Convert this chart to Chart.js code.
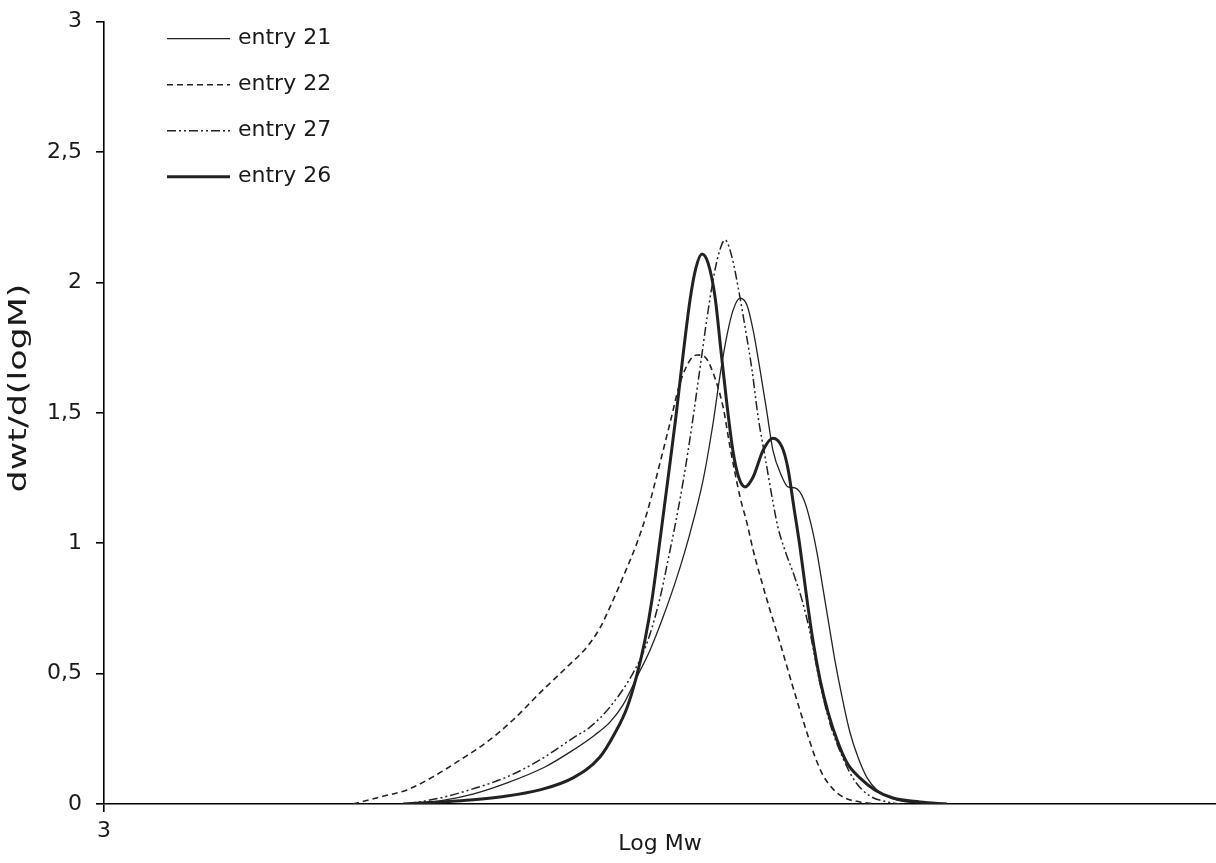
<!DOCTYPE html>
<html>
<head>
<meta charset="utf-8">
<script src="https://cdn.jsdelivr.net/npm/chart.js@4.4.1/dist/chart.umd.min.js"></script>
<style>
  html, body { margin: 0; padding: 0; background: #fff; }
  #wrap { width: 1216px; height: 863px; }
</style>
</head>
<body>
<div id="wrap"><canvas id="mwd"></canvas></div>
<script>
// GPC molecular weight distributions: dwt/d(logM) against Log Mw
const seriesNames = ['entry 21', 'entry 22', 'entry 27', 'entry 26'];

const logMw21 = [4.101, 4.209, 4.327, 4.450, 4.586, 4.676, 4.766, 4.820, 4.867, 4.917, 4.964, 5.011, 5.061, 5.108, 5.155, 5.191, 5.216, 5.241, 5.263, 5.288, 5.313, 5.335, 5.360, 5.385, 5.406, 5.439, 5.460, 5.486, 5.518, 5.543, 5.565, 5.586, 5.608, 5.629, 5.655, 5.683, 5.712, 5.745, 5.784, 5.853, 5.935, 6.007];
const dwt21 = [0, 0.012, 0.038, 0.081, 0.142, 0.199, 0.265, 0.314, 0.380, 0.487, 0.590, 0.717, 0.870, 1.039, 1.242, 1.461, 1.645, 1.798, 1.894, 1.940, 1.913, 1.817, 1.664, 1.499, 1.357, 1.254, 1.216, 1.212, 1.166, 1.074, 0.962, 0.828, 0.686, 0.552, 0.410, 0.276, 0.180, 0.100, 0.050, 0.015, 0.004, 0];

const logMw22 = [3.896, 3.993, 4.090, 4.183, 4.281, 4.378, 4.471, 4.568, 4.665, 4.737, 4.784, 4.820, 4.867, 4.917, 4.953, 5.000, 5.036, 5.072, 5.108, 5.133, 5.162, 5.191, 5.227, 5.252, 5.288, 5.313, 5.335, 5.385, 5.432, 5.478, 5.529, 5.558, 5.586, 5.622, 5.665, 5.719, 5.773];
const dwt22 = [0, 0.027, 0.054, 0.104, 0.169, 0.238, 0.322, 0.426, 0.525, 0.602, 0.675, 0.755, 0.870, 1.001, 1.116, 1.308, 1.461, 1.614, 1.702, 1.722, 1.714, 1.653, 1.522, 1.369, 1.177, 1.077, 0.974, 0.782, 0.617, 0.449, 0.272, 0.180, 0.111, 0.058, 0.023, 0.008, 0];

const logMw27 = [4.090, 4.209, 4.327, 4.450, 4.568, 4.687, 4.748, 4.820, 4.903, 4.953, 5.000, 5.029, 5.058, 5.086, 5.115, 5.144, 5.169, 5.191, 5.212, 5.234, 5.259, 5.281, 5.306, 5.331, 5.353, 5.378, 5.403, 5.424, 5.453, 5.482, 5.511, 5.540, 5.576, 5.612, 5.658, 5.701, 5.755, 5.817, 5.863];
const dwt27 = [0, 0.023, 0.058, 0.104, 0.169, 0.253, 0.295, 0.372, 0.502, 0.617, 0.790, 0.936, 1.089, 1.254, 1.453, 1.672, 1.863, 2.009, 2.113, 2.163, 2.097, 1.982, 1.829, 1.664, 1.484, 1.331, 1.177, 1.062, 0.962, 0.878, 0.782, 0.656, 0.460, 0.307, 0.176, 0.088, 0.031, 0.008, 0];

const logMw26 = [4.076, 4.209, 4.317, 4.424, 4.568, 4.687, 4.784, 4.838, 4.881, 4.917, 4.946, 4.971, 5.000, 5.029, 5.058, 5.083, 5.108, 5.129, 5.151, 5.173, 5.198, 5.219, 5.241, 5.263, 5.284, 5.306, 5.335, 5.371, 5.406, 5.439, 5.460, 5.482, 5.504, 5.525, 5.547, 5.576, 5.604, 5.637, 5.673, 5.719, 5.773, 5.838, 5.935, 6.032];
const dwt26 = [0, 0.008, 0.015, 0.027, 0.054, 0.100, 0.180, 0.272, 0.368, 0.495, 0.629, 0.782, 1.012, 1.250, 1.492, 1.722, 1.933, 2.055, 2.109, 2.074, 1.944, 1.741, 1.530, 1.350, 1.250, 1.216, 1.254, 1.357, 1.403, 1.369, 1.288, 1.135, 0.982, 0.813, 0.648, 0.475, 0.353, 0.245, 0.157, 0.100, 0.054, 0.023, 0.008, 0];

const xTicks = [3];
const xMin = 3, xMax = 7;
const yMin = 0, yMax = 3, yStep = 0.5;
const yTitle = 'dwt/d(logM)';

const FONT = '"DejaVu Sans", sans-serif';
const INK = '#1a1a1a';

const toPoints = (xs, ys) => xs.map((x, i) => ({ x: x, y: ys[i] }));

function curve(label, xs, ys, width, dash) {
    return {
        label: label,
        data: toPoints(xs, ys),
        borderColor: '#222',
        borderWidth: width,
        borderDash: dash,
        pointRadius: 0,
        fill: false,
        cubicInterpolationMode: 'monotone'
    };
}

// legend inside the plot (line sample then name) and the long y title
const chartText = {
    id: 'chartText',
    afterDraw(chart) {
        const { ctx, chartArea } = chart;
        const x0 = chartArea.left + 63, len = 63;
        ctx.save();
        ctx.font = '22px ' + FONT;
        ctx.textBaseline = 'middle';
        chart.data.datasets.forEach((ds, i) => {
            const y = chartArea.top + 17 + i * 46;
            ctx.beginPath();
            ctx.setLineDash(ds.borderDash || []);
            ctx.lineWidth = ds.borderWidth;
            ctx.strokeStyle = ds.borderColor;
            ctx.moveTo(x0, y);
            ctx.lineTo(x0 + len, y);
            ctx.stroke();
            ctx.setLineDash([]);
            ctx.fillStyle = INK;
            ctx.fillText(ds.label, x0 + len + 8, y);
        });

        // rotated axis title, stretched along its length
        ctx.font = '24px ' + FONT;
        ctx.textAlign = 'center';
        const w = ctx.measureText(yTitle).width;
        ctx.translate(20, 388);
        ctx.rotate(-Math.PI / 2);
        ctx.scale(209 / w, 1);
        ctx.fillText(yTitle, 0, 0);
        ctx.restore();
    }
};

const ctx = document.getElementById('mwd').getContext('2d');
new Chart(ctx, {
    type: 'line',
    data: {
        datasets: [
            curve(seriesNames[0], logMw21, dwt21, 1.3, []),
            curve(seriesNames[1], logMw22, dwt22, 1.6, [6, 4]),
            curve(seriesNames[2], logMw27, dwt27, 1.5, [9, 3, 2, 3, 2, 3]),
            curve(seriesNames[3], logMw26, dwt26, 3, [])
        ]
    },
    options: {
        responsive: true,
        maintainAspectRatio: false,
        animation: false,
        layout: { padding: { top: 0, right: 0, bottom: 0, left: 0 } },
        plugins: {
            legend: { display: false },
            tooltip: { enabled: false }
        },
        scales: {
            x: {
                type: 'linear',
                min: xMin,
                max: xMax,
                afterBuildTicks: (scale) => { scale.ticks = xTicks.map(v => ({ value: v })); },
                afterFit: (scale) => { scale.height = 59; },
                border: { display: true, color: '#000', width: 1.6 },
                grid: { drawOnChartArea: false, drawTicks: true, tickLength: 8, color: '#000', lineWidth: 1.6 },
                ticks: { padding: 6, color: INK, font: { family: FONT, size: 22 } },
                title: { display: true, text: 'Log Mw', color: INK, font: { family: FONT, size: 22 }, padding: { top: 0, bottom: 6 } }
            },
            y: {
                min: yMin,
                max: yMax,
                afterFit: (scale) => { scale.width = 104; },
                border: { display: true, color: '#000', width: 1.6 },
                grid: { drawOnChartArea: false, drawTicks: true, tickLength: 8, color: '#000', lineWidth: 1.6 },
                ticks: {
                    stepSize: yStep,
                    padding: 14,
                    color: INK,
                    // tight line height keeps the top label from pushing the plot down
                    font: { family: FONT, size: 22, lineHeight: 0.7 },
                    callback: (v) => String(v).replace('.', ',')
                }
            }
        }
    },
    plugins: [chartText]
});
</script>
</body>
</html>
